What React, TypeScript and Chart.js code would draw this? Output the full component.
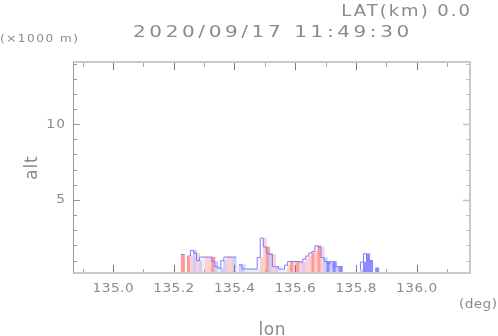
import React, { useEffect, useRef } from "react";
import { Chart, registerables } from "chart.js";

Chart.register(...registerables);

// ---- data ----
const titleText = "2020/09/17 11:49:30";
const latText = "LAT(km) 0.0";
const unitText = "(\u00d71000 m)";
const xUnitText = "(deg)";
const xTitle = "lon";
const yTitle = "alt";

const xMin = 134.868;
const xMax = 136.176;
const yMin = 0.18;
const yMax = 14.1;

const xMajorTicks = [135.0, 135.2, 135.4, 135.6, 135.8, 136.0];
const xTickLabels = ["135.0", "135.2", "135.4", "135.6", "135.8", "136.0"];
const xMinorTicks = [134.9, 135.1, 135.3, 135.5, 135.7, 135.9, 136.1];
const yMajorTicks = [5, 10];
const yTickLabels = ["5", "10"];
const yMinorTicks = [1, 2, 3, 4, 6, 7, 8, 9, 11, 12, 13, 14];

// echo columns: longitude (deg), top altitude (km), tone code
const colLon = [
  135.23, 135.25, 135.26, 135.27, 135.28, 135.29, 135.3, 135.31, 135.32, 135.33,
  135.34, 135.35, 135.36, 135.37, 135.38, 135.39, 135.4,
  135.42, 135.43, 135.44, 135.45, 135.46, 135.47, 135.48, 135.49, 135.5,
  135.51, 135.52, 135.53, 135.54, 135.55, 135.56, 135.57, 135.58, 135.59,
  135.6, 135.61, 135.62, 135.63, 135.64, 135.65, 135.66, 135.67, 135.68,
  135.69, 135.7, 135.71, 135.72, 135.73, 135.74, 135.75,
  135.82, 135.83, 135.84, 135.85, 135.87,
];
const colTop = [
  1.4, 1.2, 1.3, 1.67, 1.5, 1.0, 1.23, 1.23, 1.23, 1.23,
  0.94, 0.6, 0.5, 1.0, 1.23, 1.23, 1.23,
  0.72, 0.72, 0.44, 0.44, 0.44, 0.44, 0.44, 1.2, 2.48,
  1.9, 1.5, 1.4, 0.6, 0.6, 0.44, 0.44, 0.7, 0.94,
  0.94, 0.94, 0.94, 0.9, 1.1, 1.3, 1.5, 1.6, 1.97,
  1.9, 1.2, 0.94, 0.8, 0.94, 0.6, 0.6,
  0.4, 0.9, 1.45, 1.0, 0.5,
];
const colTone = [
  "R", "R", "r", "b", "r", "b", "w", "r", "r", "R",
  "b", "w", "b", "b", "r", "r", "b",
  "b", "b", "w", "w", "w", "w", "w", "r", "r",
  "R", "b", "r", "b", "w", "w", "w", "r", "R",
  "r", "R", "r", "b", "r", "r", "R", "r", "R",
  "r", "b", "B", "b", "B", "b", "B",
  "b", "B", "B", "B", "B",
];

const toneColors: Record<string, string> = {
  R: "#ff9a9a",
  r: "#ffd0d0",
  B: "#8c8cff",
  b: "#cdcdff",
  w: "#eeeefa",
};

const TEXT = "#8a8a8a";
const FONT = "'DejaVu Sans', sans-serif";

function drawText(
  ctx: CanvasRenderingContext2D,
  text: string,
  x: number,
  y: number,
  size: number,
  stretch: number,
  spacing: number,
  align: CanvasTextAlign,
  baseline: CanvasTextBaseline
) {
  ctx.save();
  ctx.font = `${size}px ${FONT}`;
  (ctx as any).letterSpacing = "0px";
  ctx.fillStyle = TEXT;
  ctx.textBaseline = baseline;
  ctx.textAlign = "left";
  const natural = ctx.measureText(text).width;
  const w = natural * stretch + spacing * (text.length - 1);
  let sx = x;
  if (align === "center") sx = x - w / 2;
  else if (align === "right") sx = x - w;
  ctx.translate(sx, y);
  ctx.scale(stretch, 1);
  (ctx as any).letterSpacing = `${spacing / stretch}px`;
  ctx.fillText(text, 0, 0);
  ctx.restore();
}

const framePlugin = {
  id: "frameAndText",
  afterDatasetsDraw(chart: any) {
    const ctx: CanvasRenderingContext2D = chart.ctx;
    const xs = chart.scales.x;
    const ys = chart.scales.y;
    const { left, right, top, bottom } = chart.chartArea;
    ctx.save();
    // frame
    ctx.strokeStyle = "#cacaca";
    ctx.lineWidth = 2;
    ctx.beginPath();
    ctx.moveTo(left, top);
    ctx.lineTo(right, top);
    ctx.lineTo(right, bottom);
    ctx.lineTo(left, bottom);
    ctx.stroke();
    ctx.strokeStyle = "#9a9a9a";
    ctx.lineWidth = 1;
    ctx.beginPath();
    ctx.moveTo(left + 0.5, top);
    ctx.lineTo(left + 0.5, bottom);
    ctx.stroke();

    // x ticks (inward, top & bottom)
    ctx.strokeStyle = "#7a7a7a";
    ctx.lineWidth = 1;
    ctx.beginPath();
    xMajorTicks.forEach((v) => {
      const px = Math.round(xs.getPixelForValue(v)) + 0.5;
      ctx.moveTo(px, bottom - 1);
      ctx.lineTo(px, bottom - 8);
      ctx.moveTo(px, top + 1);
      ctx.lineTo(px, top + 8);
    });
    ctx.stroke();
    ctx.strokeStyle = "#a8a8a8";
    ctx.beginPath();
    xMinorTicks.forEach((v) => {
      const px = Math.round(xs.getPixelForValue(v)) + 0.5;
      ctx.moveTo(px, bottom - 1);
      ctx.lineTo(px, bottom - 4);
      ctx.moveTo(px, top + 1);
      ctx.lineTo(px, top + 5);
    });
    ctx.stroke();

    // y ticks (inward, left & right)
    ctx.strokeStyle = "#9a9a9a";
    ctx.beginPath();
    yMajorTicks.forEach((v) => {
      const py = Math.round(ys.getPixelForValue(v)) + 0.5;
      ctx.moveTo(left, py);
      ctx.lineTo(left + 7, py);
    });
    yMinorTicks.forEach((v) => {
      const py = Math.round(ys.getPixelForValue(v)) + 0.5;
      ctx.moveTo(left, py);
      ctx.lineTo(left + 4, py);
    });
    ctx.stroke();
    ctx.strokeStyle = "#c4c4c4";
    ctx.lineWidth = 1.5;
    ctx.beginPath();
    yMajorTicks.forEach((v) => {
      const py = Math.round(ys.getPixelForValue(v)) + 0.5;
      ctx.moveTo(right, py);
      ctx.lineTo(right - 7, py);
    });
    ctx.stroke();
    ctx.lineWidth = 1;
    ctx.beginPath();
    yMinorTicks.forEach((v) => {
      const py = Math.round(ys.getPixelForValue(v)) + 0.5;
      ctx.moveTo(right, py);
      ctx.lineTo(right - 4, py);
    });
    ctx.stroke();
    ctx.restore();

    // tick labels
    xMajorTicks.forEach((v, i) => {
      drawText(ctx, xTickLabels[i], xs.getPixelForValue(v), 292, 13, 1.05, 0.5, "center", "alphabetic");
    });
    yMajorTicks.forEach((v, i) => {
      drawText(ctx, yTickLabels[i], left - 8, ys.getPixelForValue(v), 13, 1.05, 1.5, "right", "middle");
    });

    // texts
    drawText(ctx, latText, 470, 16, 15, 1.2, 2.0, "right", "alphabetic");
    drawText(ctx, titleText, 133, 37, 16, 1.25, 3.6, "left", "alphabetic");
    drawText(ctx, unitText, 0, 42, 11, 1.1, 1.5, "left", "alphabetic");
    drawText(ctx, xUnitText, 497, 308, 13, 1.05, 0.4, "right", "alphabetic");
    drawText(ctx, xTitle, 272, 335, 17, 1.0, 0.5, "center", "alphabetic");
    ctx.save();
    ctx.translate(37, 168);
    ctx.rotate(-Math.PI / 2);
    drawText(ctx, yTitle, 0, 0, 17, 1.0, 0.8, "center", "alphabetic");
    ctx.restore();
  },
};

export default function App() {
  const ref = useRef<HTMLCanvasElement | null>(null);
  useEffect(() => {
    if (!ref.current) return;
    const half = 0.005;
    // outline path built from the columns
    const outline: any[] = [];
    for (let i = 0; i < colLon.length; i++) {
      const startSeg = i === 0 || colLon[i] - colLon[i - 1] > 0.015;
      const endSeg = i === colLon.length - 1 || colLon[i + 1] - colLon[i] > 0.015;
      if (startSeg && i > 0) outline.push({ x: colLon[i] - half - 0.001, y: null });
      outline.push({ x: colLon[i] - half, y: colTop[i] });
      if (endSeg) outline.push({ x: colLon[i] + half, y: colTop[i] });
    }
    const chart = new Chart(ref.current, {
      type: "bar",
      data: {
        datasets: [
          {
            type: "line",
            xAxisID: "x2",
            data: outline,
            borderColor: "#7c7cff",
            borderWidth: 1,
            pointRadius: 0,
            stepped: "after",
            spanGaps: false,
            order: 0,
          } as any,
          {
            type: "bar",
            xAxisID: "x",
            data: colLon.map((x, i) => ({ x, y: [yMin, colTop[i]] })),
            backgroundColor: colTone.map((t) => toneColors[t]),
            borderWidth: 0,
            barThickness: 3.4,
            grouped: false,
            order: 1,
          } as any,
        ],
      },
      options: {
        animation: false,
        responsive: false,
        maintainAspectRatio: false,
        layout: { padding: { left: 73, top: 62, right: 28, bottom: 63 } },
        plugins: { legend: { display: false }, title: { display: false }, tooltip: { enabled: false } },
        scales: {
          x: { type: "linear", min: xMin, max: xMax, display: false, offset: false },
          x2: { type: "linear", min: xMin, max: xMax, display: false, offset: false },
          y: { type: "linear", min: yMin, max: yMax, display: false },
        },
      },
      plugins: [framePlugin],
    });
    return () => chart.destroy();
  }, []);
  return (
    <div style={{ position: "fixed", left: 0, top: 0, width: 498, height: 336, background: "#fff" }}>
      <canvas ref={ref} width={498} height={336} style={{ display: "block" }} />
    </div>
  );
}
